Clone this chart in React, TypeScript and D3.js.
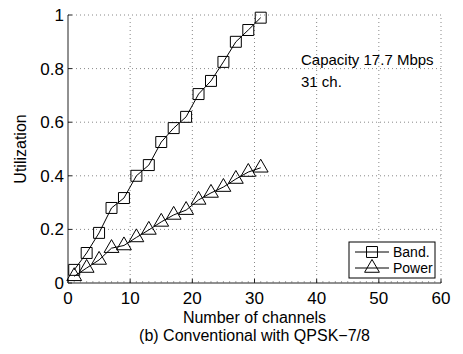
import { useEffect, useRef } from "react";
import * as d3 from "d3";

const channels = [1, 3, 5, 7, 9, 11, 13, 15, 17, 19, 21, 23, 25, 27, 29, 31];
const bandUtil = [0.049, 0.112, 0.187, 0.28, 0.317, 0.4, 0.44, 0.526, 0.578, 0.62, 0.705, 0.754, 0.825, 0.9, 0.944, 0.99];
const powerUtil = [0.025, 0.056, 0.086, 0.13, 0.14, 0.17, 0.198, 0.228, 0.254, 0.272, 0.31, 0.336, 0.358, 0.388, 0.414, 0.43];
const xTicks = [0, 10, 20, 30, 40, 50, 60];
const yTicks = [0, 0.2, 0.4, 0.6, 0.8, 1];
const seriesNames = ["Band.", "Power"];

const width = 463;
const height = 354;
const margin = { top: 15, right: 22, bottom: 71, left: 68 };
const font = "'Liberation Sans', Arial, Helvetica, sans-serif";

export default function App() {
  const svgRef = useRef<SVGSVGElement>(null);

  useEffect(() => {
    if (!svgRef.current) return;
    const svg = d3.select(svgRef.current);
    svg.selectAll("*").remove();

    const innerWidth = width - margin.left - margin.right;
    const innerHeight = height - margin.top - margin.bottom;

    const x = d3.scaleLinear().domain([0, 60]).range([margin.left, margin.left + innerWidth]);
    const y = d3.scaleLinear().domain([0, 1]).range([margin.top + innerHeight, margin.top]);

    // dotted grid
    const grid = svg.append("g").attr("stroke", "#888").attr("stroke-width", 1).attr("stroke-dasharray", "1,3");
    xTicks.slice(1).forEach((t) => {
      grid.append("line").attr("x1", x(t)).attr("x2", x(t)).attr("y1", y(0)).attr("y2", y(1));
    });
    yTicks.slice(1).forEach((t) => {
      grid.append("line").attr("x1", x(0)).attr("x2", x(60)).attr("y1", y(t)).attr("y2", y(t));
    });

    // axes (left and bottom only)
    const axisColor = "#222";
    svg.append("line").attr("x1", x(0)).attr("x2", x(0)).attr("y1", y(0)).attr("y2", y(1)).attr("stroke", axisColor);
    svg.append("line").attr("x1", x(0)).attr("x2", x(60)).attr("y1", y(0)).attr("y2", y(0)).attr("stroke", axisColor);

    // minor ticks on x axis
    d3.range(0, 61, 1).forEach((t) => {
      svg.append("line").attr("x1", x(t)).attr("x2", x(t)).attr("y1", y(0)).attr("y2", y(0) - 2).attr("stroke", "#666").attr("stroke-width", 0.6);
    });
    xTicks.forEach((t) => {
      svg.append("line").attr("x1", x(t)).attr("x2", x(t)).attr("y1", y(0)).attr("y2", y(0) - 4).attr("stroke", axisColor);
      svg.append("text").attr("x", x(t)).attr("y", y(0) + 21).attr("text-anchor", "middle")
        .attr("font-family", font).attr("font-size", 17).attr("fill", "#000").text(String(t));
    });
    yTicks.forEach((t) => {
      svg.append("line").attr("x1", x(0)).attr("x2", x(0) + 4).attr("y1", y(t)).attr("y2", y(t)).attr("stroke", axisColor);
      svg.append("text").attr("x", x(0) - 4).attr("y", y(t) + 6).attr("text-anchor", "end")
        .attr("font-family", font).attr("font-size", 17).attr("fill", "#000").text(String(t));
    });

    // labels
    svg.append("text").attr("x", x(30)).attr("y", y(0) + 40).attr("text-anchor", "middle")
      .attr("font-family", font).attr("font-size", 16).text("Number of channels");
    svg.append("text").attr("x", x(30)).attr("y", y(0) + 58).attr("text-anchor", "middle")
      .attr("font-family", font).attr("font-size", 16).text("(b) Conventional with QPSK\u22127/8");
    svg.append("text").attr("transform", `translate(26,${y(0.5)}) rotate(-90)`).attr("text-anchor", "middle")
      .attr("font-family", font).attr("font-size", 16).text("Utilization");

    // annotation
    svg.append("text").attr("x", 301).attr("y", 65).attr("font-family", font).attr("font-size", 15).text("Capacity 17.7 Mbps");
    svg.append("text").attr("x", 301).attr("y", 87).attr("font-family", font).attr("font-size", 15).text("31 ch.");

    const line = d3.line<[number, number]>().x((d) => x(d[0])).y((d) => y(d[1]));
    const bandPts = channels.map((c, i) => [c, bandUtil[i]] as [number, number]);
    const powerPts = channels.map((c, i) => [c, powerUtil[i]] as [number, number]);

    const sq = d3.symbol().type(d3.symbolSquare).size(120);
    const tri = d3.symbol().type(d3.symbolTriangle).size(95);

    svg.append("path").attr("d", line(powerPts)).attr("fill", "none").attr("stroke", "#000").attr("stroke-width", 1);
    svg.append("g").selectAll("path").data(powerPts).join("path")
      .attr("transform", (d) => `translate(${x(d[0])},${y(d[1])})`)
      .attr("d", tri()).attr("fill", "none").attr("stroke", "#000").attr("stroke-width", 1);

    svg.append("path").attr("d", line(bandPts)).attr("fill", "none").attr("stroke", "#000").attr("stroke-width", 1);
    svg.append("g").selectAll("path").data(bandPts).join("path")
      .attr("transform", (d) => `translate(${x(d[0])},${y(d[1])})`)
      .attr("d", sq()).attr("fill", "none").attr("stroke", "#000").attr("stroke-width", 1);

    // legend
    const lg = svg.append("g").attr("transform", "translate(349,242)");
    lg.append("rect").attr("width", 86).attr("height", 36).attr("fill", "#fff").attr("stroke", "#000");
    seriesNames.forEach((name, i) => {
      const cy = 10 + i * 16;
      lg.append("line").attr("x1", 6).attr("x2", 40).attr("y1", cy).attr("y2", cy).attr("stroke", "#000");
      lg.append("path").attr("transform", `translate(23,${cy})`).attr("d", i === 0 ? sq() : tri())
        .attr("fill", "none").attr("stroke", "#000");
      lg.append("text").attr("x", 44).attr("y", cy + 5).attr("font-family", font).attr("font-size", 14).text(name);
    });
  }, []);

  return <svg ref={svgRef} width={width} height={height} style={{ position: "absolute", left: 0, top: 0, background: "#fff" }} />;
}
